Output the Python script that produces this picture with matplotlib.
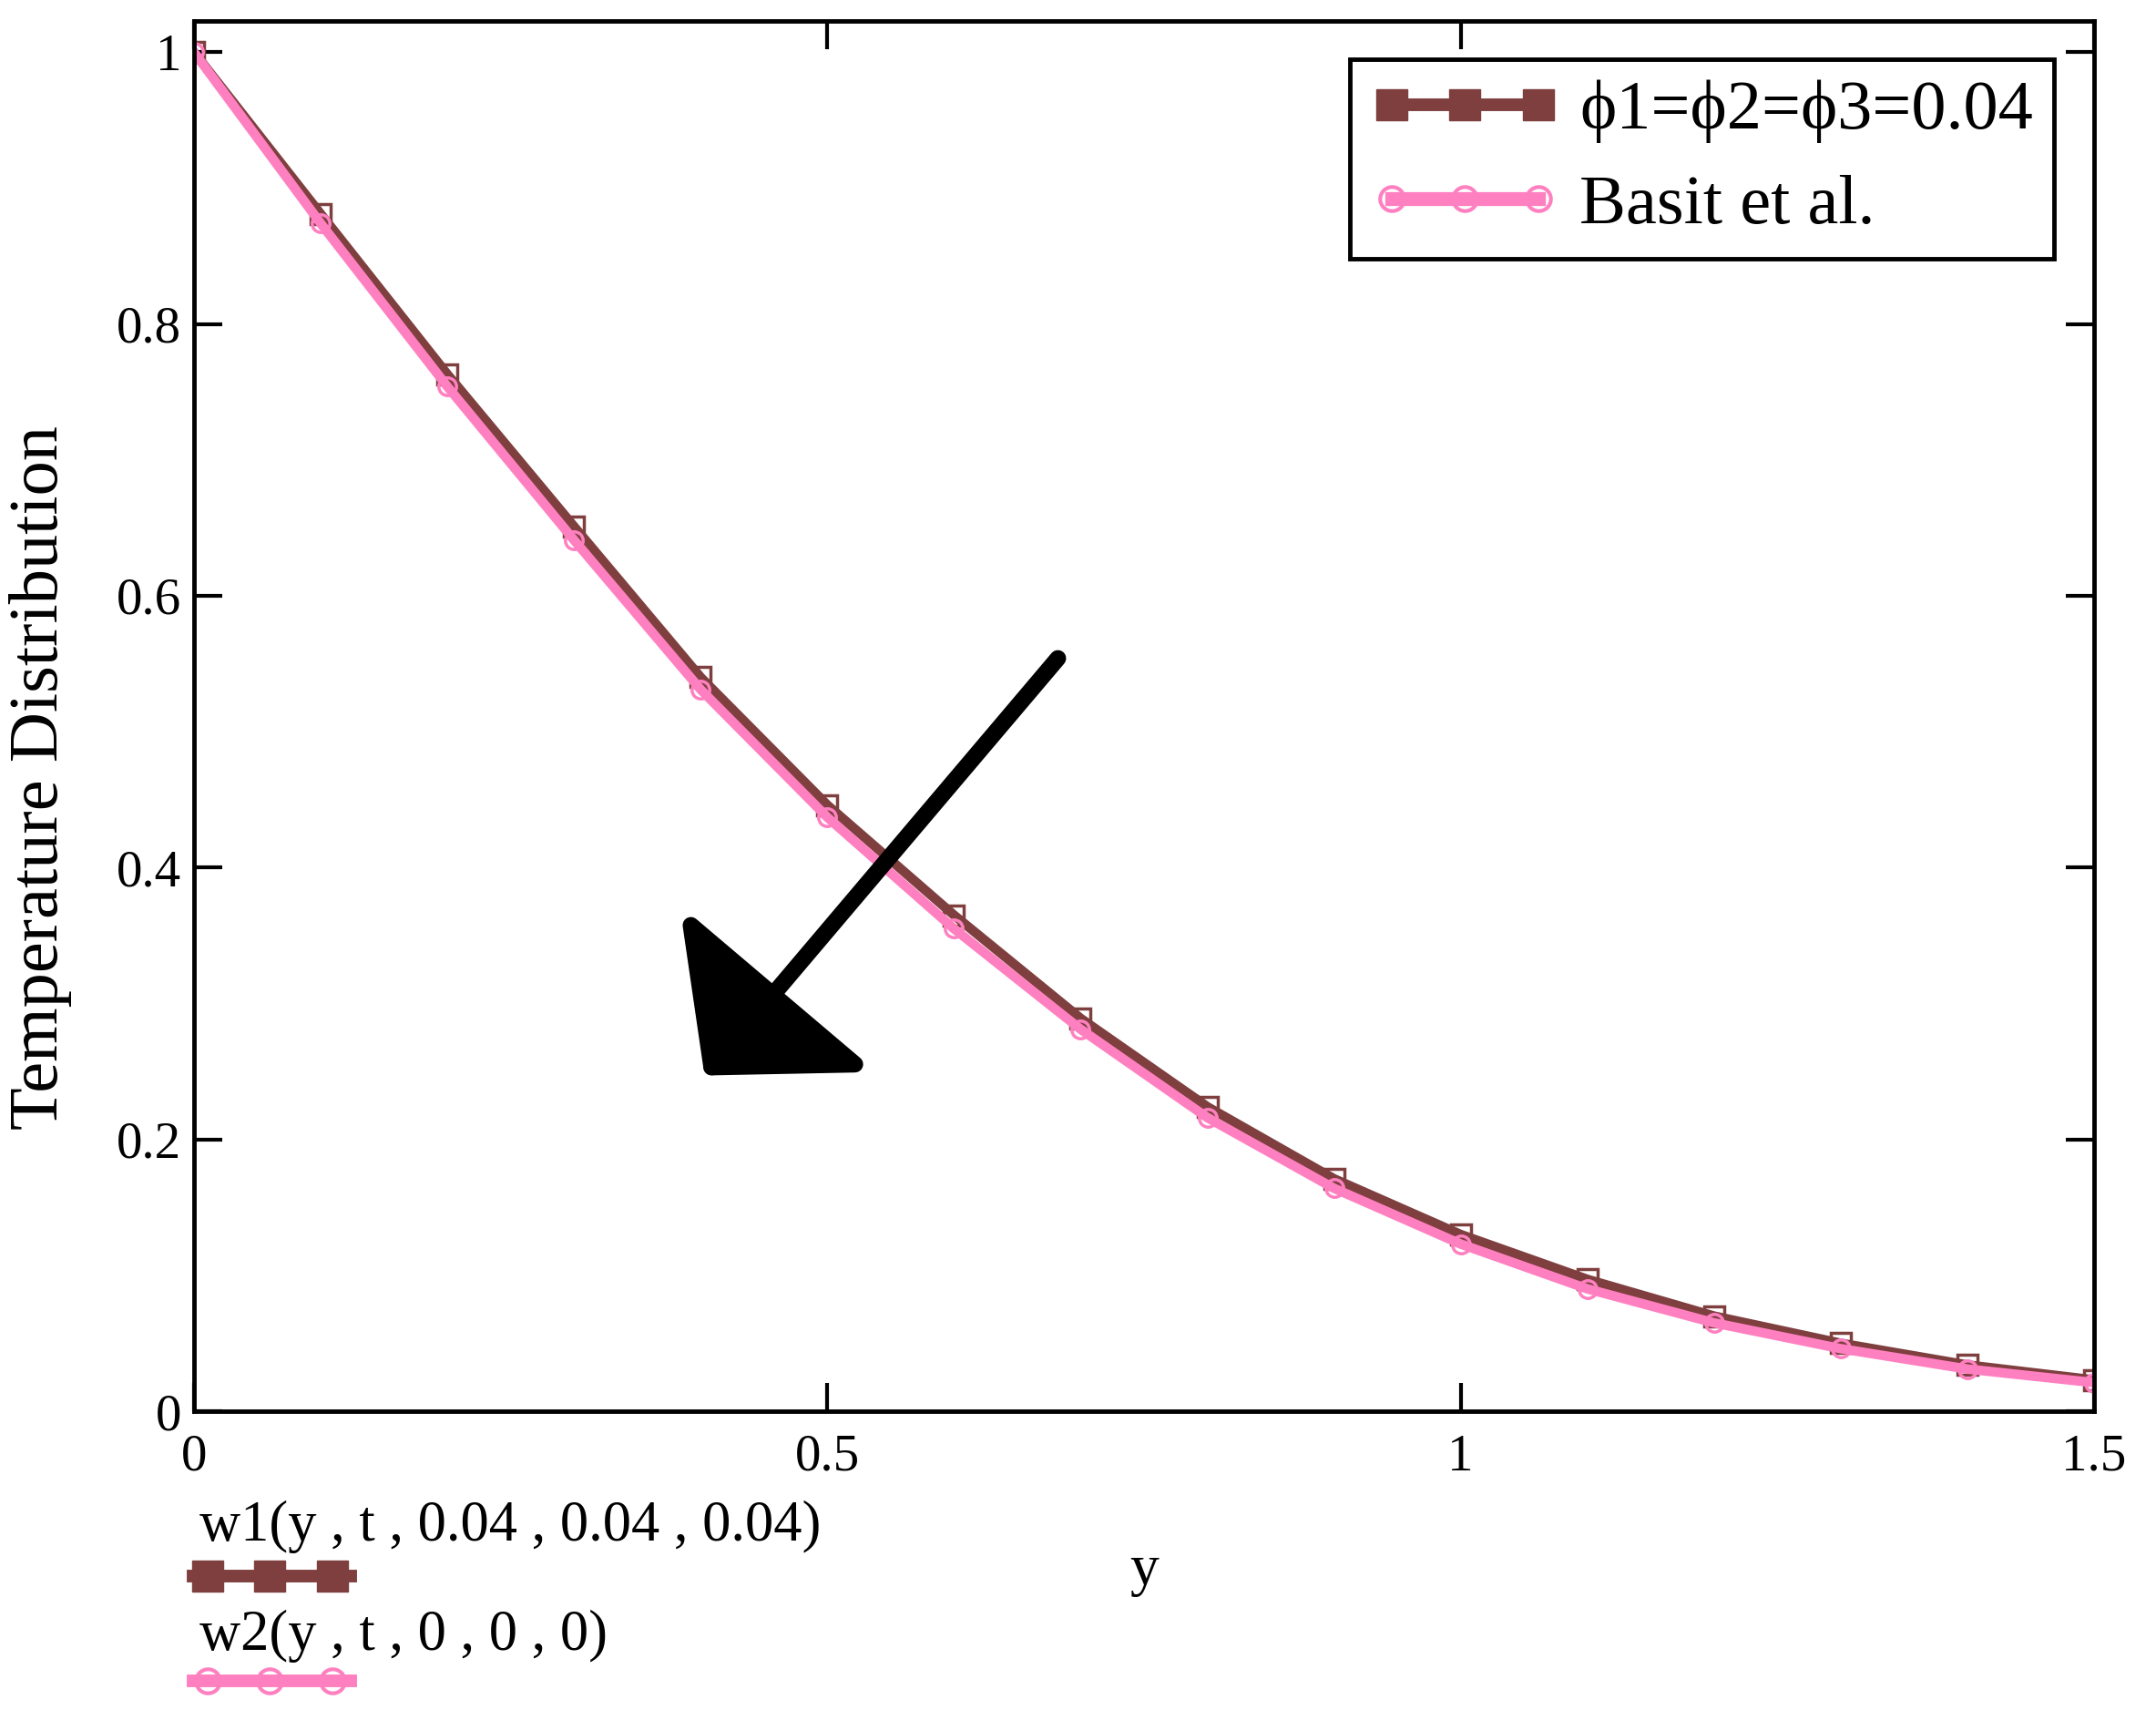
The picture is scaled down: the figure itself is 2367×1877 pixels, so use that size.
import matplotlib
matplotlib.use("Agg")
import matplotlib.pyplot as plt
from matplotlib.lines import Line2D

# data
y_vals = [0.0, 0.1, 0.2, 0.3, 0.4, 0.5, 0.6, 0.7, 0.8, 0.9, 1.0, 1.1, 1.2, 1.3, 1.4, 1.5]
w1 = [1.0, 0.881, 0.763, 0.651, 0.540, 0.446, 0.365, 0.289, 0.224, 0.171, 0.130, 0.097, 0.070, 0.050, 0.034, 0.023]
w2 = [1.0, 0.874, 0.754, 0.641, 0.531, 0.437, 0.355, 0.281, 0.216, 0.164, 0.123, 0.090, 0.065, 0.046, 0.031, 0.021]

labels = ["\u03d51=\u03d52=\u03d53=0.04", "Basit et al."]
bottom_labels = ["w1(y , t , 0.04 , 0.04 , 0.04)", "w2(y , t , 0 , 0 , 0)"]
x_ticks = [0, 0.5, 1, 1.5]
x_ticklabels = ["0", "0.5", "1", "1.5"]
y_ticks = [0, 0.2, 0.4, 0.6, 0.8, 1.0]
y_ticklabels = ["0", "0.2", "0.4", "0.6", "0.8", "1"]

brown = "#7f3f3f"
pink = "#ff80c0"
serif = ["Liberation Serif", "DejaVu Serif"]
plt.rcParams["font.family"] = serif

W, H = 2367, 1877
fig = plt.figure(figsize=(W / 100, H / 100), dpi=100)
ax = fig.add_axes([213 / W, 1 - 1549 / H, (2299 - 213) / W, (1549 - 23) / H])

ax.plot(y_vals, w1, color=brown, lw=7.5, marker="s", ms=16, mfc="none", mec=brown, mew=2.5)
ax.plot(y_vals, w2, color=pink, lw=7.5, marker="o", ms=14, mfc="none", mec=pink, mew=2.5)

ax.set_xlim(0, 1.5)
ax.set_ylim(0, 1.023)
ax.set_xticks(x_ticks)
ax.set_xticklabels(x_ticklabels)
ax.set_yticks(y_ticks)
ax.set_yticklabels(y_ticklabels)
ax.tick_params(direction="in", length=22, width=3, labelsize=41,
               top=True, right=True, pad=10)
ax.tick_params(axis="x", pad=18)
for s in ax.spines.values():
    s.set_linewidth(3.5)

ax.set_xlabel("y", fontsize=46)
ax.xaxis.set_label_coords(0.5, -0.096)
ax.set_ylabel("Temperature Distribution", fontsize=55)
ax.yaxis.set_label_coords(-0.064, 0.456)

# arrow
ax.annotate("", xy=(0.403, 0.247), xytext=(0.682, 0.554),
            arrowprops=dict(arrowstyle="-|>,head_length=1.5,head_width=1.7",
                            mutation_scale=50, lw=13, color="black",
                            shrinkA=0, shrinkB=0))

handles = [
    Line2D([], [], color=brown, lw=10, marker="s", ms=25, mfc=brown, mec=brown),
    Line2D([], [], color=pink, lw=11, marker="o", ms=19, mfc="none", mec=pink, mew=3),
]
leg = ax.legend(handles, labels, loc="upper right", bbox_to_anchor=(0.979, 0.9725),
                fontsize=55, numpoints=3, handlelength=2.7, handletextpad=0.3,
                borderpad=0.3, labelspacing=0.45, borderaxespad=0,
                fancybox=False, framealpha=1)
leg.get_frame().set_edgecolor("black")
leg.get_frame().set_linewidth(3.5)

# bottom trace labels (mathcad style)
fig.text(219 / W, 1 - 1676 / H, bottom_labels[0], fontsize=45, va="center", ha="left")
fig.text(219 / W, 1 - 1796 / H, bottom_labels[1], fontsize=45, va="center", ha="left")
fig.add_artist(Line2D([212 / W, 385 / W], [1 - 1730 / H] * 2, color=brown, lw=10))
fig.add_artist(Line2D([228 / W, 296 / W, 365 / W], [1 - 1730 / H] * 3, ls="none",
                      marker="s", ms=24, mfc=brown, mec=brown))
fig.add_artist(Line2D([212 / W, 385 / W], [1 - 1845 / H] * 2, color=pink, lw=10))
fig.add_artist(Line2D([228 / W, 296 / W, 365 / W], [1 - 1845 / H] * 3, ls="none",
                      marker="o", ms=19, mfc="none", mec=pink, mew=3))

fig.savefig("out.png", dpi=100)
